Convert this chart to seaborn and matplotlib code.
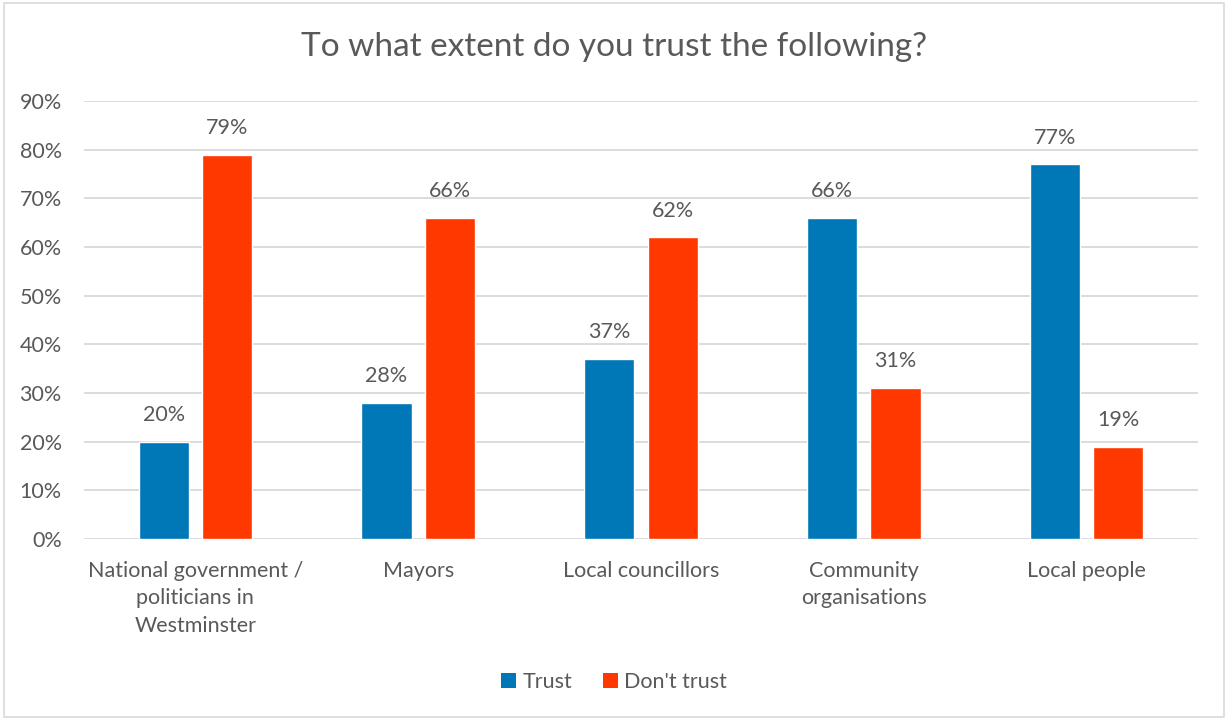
import matplotlib
matplotlib.use("Agg")
import matplotlib.pyplot as plt
from matplotlib.patches import Rectangle, Patch
import seaborn as sns
import pandas as pd

categories = ["National government /\npoliticians in\nWestminster", "Mayors",
              "Local councillors", "Community\norganisations", "Local people"]
trust = [20, 28, 37, 66, 77]
dont_trust = [79, 66, 62, 31, 19]
series = ["Trust", "Don't trust"]
colors = ["#0077B6", "#FF3800"]
yticks = [0, 10, 20, 30, 40, 50, 60, 70, 80, 90]

df = pd.DataFrame({
    "category": categories * 2,
    "value": trust + dont_trust,
    "series": [series[0]] * len(categories) + [series[1]] * len(categories),
})

sns.set_theme(style="white")
plt.rcParams["font.family"] = ["Lato", "DejaVu Sans"]
txt = "#595959"

fig = plt.figure(figsize=(12.28, 7.2), dpi=100)
ax = fig.add_axes([0.0684, 0.2514, 0.9072, 0.6083])

sns.barplot(data=df, x="category", y="value", hue="series", order=categories,
            hue_order=series, palette=colors, width=0.57, gap=0.21,
            saturation=1, legend=False, ax=ax)

for cont in ax.containers:
    ax.bar_label(cont, labels=[f"{v:.0f}%" for v in cont.datavalues],
                 padding=12, fontsize=15.5, color=txt)

ax.set_ylim(0, 90)
ax.set_xlim(-0.5, len(categories) - 0.5)
ax.set_yticks(yticks)
ax.set_yticklabels([f"{t}%" for t in yticks])
ax.yaxis.grid(True, color="#D9D9D9", linewidth=1.3)
ax.set_axisbelow(True)
ax.tick_params(axis="both", length=0, labelsize=15.5, colors=txt)
ax.tick_params(axis="y", pad=16)
ax.tick_params(axis="x", pad=16)
for lbl in ax.get_xticklabels():
    lbl.set_linespacing(1.45)
ax.set_xlabel("")
ax.set_ylabel("")
for s in ax.spines.values():
    s.set_visible(False)

fig.suptitle("To what extent do you trust the following?", x=0.5, y=0.955,
             fontsize=24, color=txt)

handles = [Patch(facecolor=c, edgecolor="none") for c in colors]
fig.legend(handles, series, loc="center", bbox_to_anchor=(0.5, 0.053), ncol=2,
           frameon=False, fontsize=15.5, labelcolor=txt, handlelength=0.7,
           handleheight=0.7, handletextpad=0.3, columnspacing=1.4)

fig.patches.append(Rectangle((0.003, 0.004), 0.994, 0.992, transform=fig.transFigure,
                             fill=False, edgecolor="#D9D9D9", linewidth=1.2))

fig.savefig("out.png", dpi=100, facecolor="white")
